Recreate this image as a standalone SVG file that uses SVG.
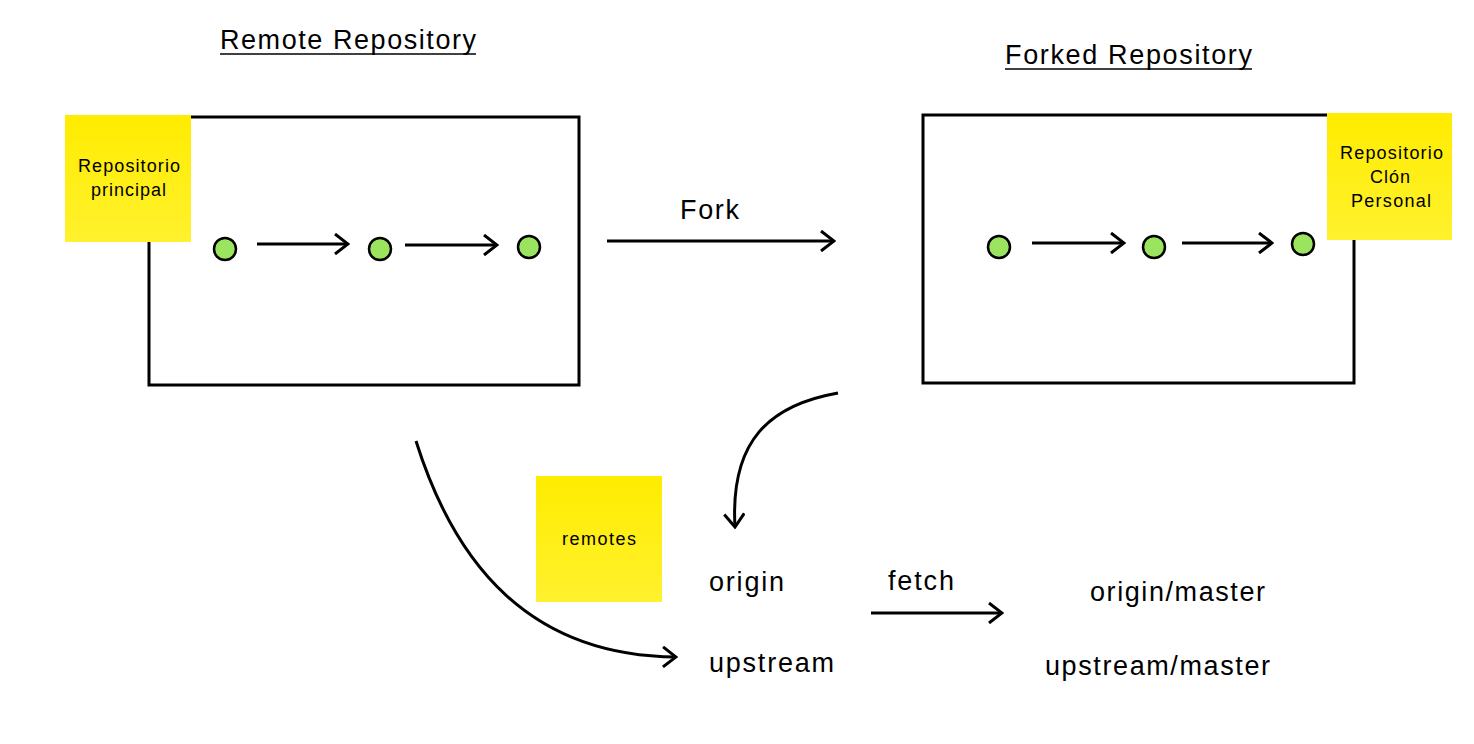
<svg xmlns="http://www.w3.org/2000/svg" width="1474" height="744" viewBox="0 0 1474 744">
<style>
.box{fill:none;stroke:#000;stroke-width:3}
.note{fill:url(#yg)}
.commit{fill:#9be45f;stroke:#000;stroke-width:2.5}
.conn{fill:none;stroke:#000;stroke-width:3}
.t{font-family:"Liberation Sans",Arial,sans-serif;fill:#000}
.big{font-size:27px}
.small{font-size:18px}
</style>
<defs>
<linearGradient id="yg" x1="0" y1="0" x2="0" y2="1">
<stop offset="0" stop-color="#ffec00"/>
<stop offset="1" stop-color="#fff12e"/>
</linearGradient>
<marker id="arr" viewBox="0 0 22 22" refX="20" refY="11" markerWidth="22" markerHeight="22" markerUnits="userSpaceOnUse" orient="auto">
<path d="M7,1 L20,11 L7,21" fill="none" stroke="#000" stroke-width="3"/>
</marker>
</defs>
<rect width="1474" height="744" fill="#fff"/>

<g id="title-remote">
<text class="t big" x="220" y="49" textLength="256" lengthAdjust="spacing">Remote Repository</text>
<line x1="220" y1="54" x2="476" y2="54" stroke="#000" stroke-width="1.5"/>
</g>
<g id="title-forked">
<text class="t big" x="1005" y="64" textLength="247" lengthAdjust="spacing">Forked Repository</text>
<line x1="1005" y1="69" x2="1252" y2="69" stroke="#000" stroke-width="1.5"/>
</g>

<g id="remote-repo">
<rect class="box" x="149" y="117" width="430" height="268"/>
</g>
<g id="note-principal">
<rect class="note" x="65" y="115" width="126" height="127"/>
<text class="t small" x="78" y="172" textLength="102" lengthAdjust="spacing">Repositorio</text>
<text class="t small" x="91" y="196" textLength="75" lengthAdjust="spacing">principal</text>
</g>

<g id="forked-repo">
<rect class="box" x="923" y="115" width="431" height="268"/>
</g>
<g id="note-clon">
<rect class="note" x="1327" y="113" width="125" height="127"/>
<text class="t small" x="1340" y="159" textLength="103" lengthAdjust="spacing">Repositorio</text>
<text class="t small" x="1370" y="183" textLength="40" lengthAdjust="spacing">Clón</text>
<text class="t small" x="1351" y="207" textLength="80" lengthAdjust="spacing">Personal</text>
</g>

<g id="commits-remote">
<circle class="commit" cx="225" cy="249" r="11"/>
<circle class="commit" cx="380" cy="249" r="11"/>
<circle class="commit" cx="529" cy="247" r="11"/>
</g>
<g id="commits-forked">
<circle class="commit" cx="999" cy="247" r="11"/>
<circle class="commit" cx="1154" cy="247" r="11"/>
<circle class="commit" cx="1303" cy="244" r="11"/>
</g>

<g id="note-remotes">
<rect class="note" x="536" y="476" width="126" height="126"/>
<text class="t small" x="562" y="545" textLength="74" lengthAdjust="spacing">remotes</text>
</g>

<g id="label-origin"><text class="t big" x="709" y="591" textLength="75" lengthAdjust="spacing">origin</text></g>
<g id="label-upstream"><text class="t big" x="709" y="672" textLength="125" lengthAdjust="spacing">upstream</text></g>
<g id="label-origin-master"><text class="t big" x="1090" y="601" textLength="175" lengthAdjust="spacing">origin/master</text></g>
<g id="label-upstream-master"><text class="t big" x="1045" y="675" textLength="225" lengthAdjust="spacing">upstream/master</text></g>

<g id="connectors">
<line class="conn" x1="257" y1="244" x2="348" y2="244" marker-end="url(#arr)"/>
<line class="conn" x1="405" y1="245" x2="497" y2="245" marker-end="url(#arr)"/>
<line class="conn" x1="1032" y1="243" x2="1124" y2="243" marker-end="url(#arr)"/>
<line class="conn" x1="1182" y1="243" x2="1272" y2="243" marker-end="url(#arr)"/>
<line class="conn" x1="607" y1="241" x2="834" y2="241" marker-end="url(#arr)"/>
<text class="t big" x="680" y="219" textLength="59" lengthAdjust="spacing">Fork</text>
<path class="conn" d="M838,393 C770,405 730,440 735,527" marker-end="url(#arr)"/>
<path class="conn" d="M416,441 C455,565 530,656 676,657" marker-end="url(#arr)"/>
<line class="conn" x1="871" y1="613" x2="1002" y2="613" marker-end="url(#arr)"/>
<text class="t big" x="888" y="590" textLength="66" lengthAdjust="spacing">fetch</text>
</g>
</svg>
